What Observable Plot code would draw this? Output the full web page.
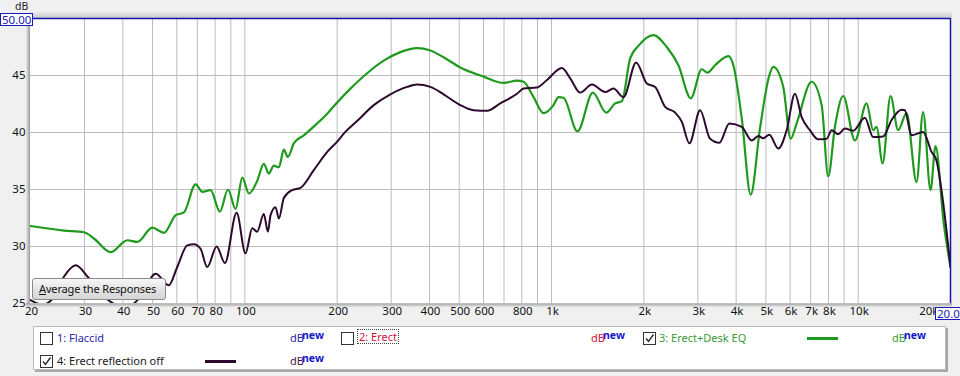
<!DOCTYPE html>
<html><head><meta charset="utf-8">
<script src="https://cdn.jsdelivr.net/npm/d3@7"></script>
<script src="https://cdn.jsdelivr.net/npm/@observablehq/plot@0.6"></script>
<style>
body{margin:0;background:#f0f0f0;font-family:"Noto Sans",sans-serif;}
#wrap{position:relative;width:960px;height:376px;overflow:hidden;background:#f0f0f0;}
#chart{position:absolute;left:0;top:0;}
.abs{position:absolute;white-space:nowrap;}
#shade{position:absolute;left:28px;top:11px;width:924px;height:7px;background:linear-gradient(#f0f0f0,#c9c9c9);}
#lshade{position:absolute;left:26px;top:14px;width:4px;height:292px;background:linear-gradient(90deg,#e8e8e8,#9a9a9a);}
#bshade{position:absolute;left:26px;top:303px;width:926px;height:4px;background:linear-gradient(#9a9a9a,#e8e8e8);}
.box{position:absolute;background:#fff;border:1px solid #1a1ab4;color:#1a1ab4;font-size:11.5px;line-height:11px;padding:0 1px;white-space:nowrap;}
#btn{position:absolute;left:32px;top:278px;width:126px;height:20px;border:1px solid #8a8a8a;border-radius:3px;background:linear-gradient(#f7f7f7,#e2e2e2 55%,#d6d6d6);font-size:11px;letter-spacing:-0.15px;line-height:20px;padding-left:6px;color:#111;white-space:nowrap;overflow:hidden;}
#legend{position:absolute;left:33px;top:326px;width:911px;height:42px;background:#fff;border:1px solid #b8b8b8;box-shadow:2px 2px 0 #a8a8a8;}
.cb{position:absolute;width:11px;height:11px;border:1px solid #333;background:#fff;}
.cb svg{position:absolute;left:0;top:0;}
.lt{position:absolute;font-size:11px;line-height:16px;white-space:nowrap;}
.db{position:absolute;font-size:11px;line-height:16px;}
.nw{position:absolute;font-size:10.5px;font-weight:bold;color:#1616c8;line-height:12px;}
.ln{position:absolute;height:3px;}
</style></head><body>
<div id="wrap">
<div id="shade"></div><div id="lshade"></div><div id="bshade"></div>
<div id="chart"></div>
<div class="abs" style="left:15px;top:1px;font-size:10.5px;color:#222;line-height:10px;">dB</div>
<div class="box" style="left:0px;top:13px;">50.00</div>
<div class="box" style="left:935px;top:307px;">20.00</div>
<div id="btn"><span style="text-decoration:underline">A</span>verage the Responses</div>
<div id="legend"></div>
</div>
<script>
// ---- data (frequency in Hz, level in dB) ----
const greenFreq = [20,25.7,29.9,32.2,36.5,41.4,44.6,49.9,54.5,59.5,63.3,69.1,72.7,77.3,82.9,88.1,93.3,98.1,103.1,109.7,115.3,119.7,124.3,129.1,134,138.1,144.4,155.7,172.2,185.6,201,221,250.5,283.7,321.6,364.5,402.6,444.8,504.2,600.5,697.9,771.7,810.8,873.9,941.9,1015,1054,1094,1215,1364,1508,1613,1696,1805,1920,2149,2376,2593,2846,3090,3223,3414,3773,3917,4172,4462,4786,5130,5286,5697,6024,6301,7050,7601,7987,8398,8939,9757,10650,11190,11480,12010,12750,13500,14380,15500,16280,17220,17870,19020,20000];
const greenDb = [31.8,31.4,31.25,30.7,29.5,30.55,30.4,31.65,31.2,32.75,33.0,35.45,34.8,34.95,33.05,35.0,33.3,36.05,34.65,35.75,37.25,36.4,37.1,36.95,38.5,37.85,39.05,39.75,40.8,41.65,42.7,43.85,45.2,46.3,47.05,47.4,47.2,46.6,45.7,44.9,44.35,44.55,44.45,43.1,41.7,42.4,43.1,43.05,40.1,43.5,41.75,42.55,42.75,46.5,47.6,48.55,47.5,45.9,43.0,45.55,45.25,45.9,46.7,45.9,41.25,34.55,40.4,45.0,45.75,44.0,39.45,40.8,44.45,42.4,36.15,40.5,43.2,39.3,42.55,40.2,40.5,37.3,43.2,40.2,41.7,35.65,41.8,34.95,38.8,32.0,28.2];
const purpleFreq = [20,21.9,23.6,25.7,28.1,30.7,33.9,37.9,41.5,45.7,51.2,56.5,60.2,64.9,68.2,71.7,75.4,80.9,86.1,94.0,100.5,105.7,109.7,115.3,118.9,121.3,125.9,129.1,134.0,142.7,151.9,167.8,185.6,200,210.1,232.3,263.2,298.3,338.1,364.5,402.6,444.8,504.2,557.2,616.0,680.7,771.7,810.8,896.6,966.1,1081,1151,1240,1354,1496,1592,1717,1888,2046,2177,2347,2529,2659,2816,3051,3289,3526,3801,4172,4495,4724,4904,5130,5488,5845,6220,6542,6961,7407,7894,8194,8609,9052,9632,10510,11190,12060,12850,13850,14190,14930,16280,17350,18000,18690,20000];
const purpleDb = [25.3,24.9,25.4,27.35,28.35,27.35,25.9,24.9,24.7,25.6,27.6,26.6,28.2,30.1,30.2,29.8,28.2,30.0,28.55,32.95,29.4,31.6,31.3,32.85,31.3,32.75,33.45,32.45,34.25,34.95,35.15,36.7,38.3,39.2,39.9,41.0,42.4,43.35,44.0,44.2,44.0,43.35,42.4,41.95,41.9,42.55,43.4,43.85,43.95,44.6,45.65,44.75,43.5,44.2,43.55,43.85,43.1,46.15,44.3,44.0,42.25,41.75,40.95,39.05,41.95,39.45,39.1,40.8,40.5,39.3,39.7,39.5,39.8,38.6,40.2,43.4,41.35,40.2,39.4,39.45,40.2,39.85,40.35,40.15,41.3,39.6,39.65,41.1,42.0,41.95,39.75,40.05,38.3,37.55,34.95,28.2];
const xTickValues = [20,30,40,50,60,70,80,100,200,300,400,500,600,800,1000,2000,3000,4000,5000,6000,7000,8000,10000];
const xTickLabels = ["20","30","40","50","60","70","80","100","200","300","400","500","600","800","1k","2k","3k","4k","5k","6k","7k","8k","10k"];
const yTickValues = [25,30,35,40,45];
const seriesNames = ["1: Flaccid","2: Erect","3: Erect+Desk EQ","4: Erect reflection off"];
const greenColor = "#1f9a1f", purpleColor = "#2c0a2e";

const green = greenFreq.map((f,i)=>({f, db: greenDb[i]}));
const purple = purpleFreq.map((f,i)=>({f, db: purpleDb[i]}));
const xTicks = xTickValues.map((v,i)=>({v, label: xTickLabels[i]}));
const gridFreqs = [];
for (const dec of [10,100,1000,10000]) for (let k=1;k<=9;k++){const v=k*dec; if (v>20 && v<=20000) gridFreqs.push(v);}

const chart = Plot.plot({
  width: 960, height: 324,
  marginLeft: 30, marginRight: 10, marginTop: 18, marginBottom: 21,
  style: {background: "transparent", fontFamily: '"Noto Sans", sans-serif', fontSize: "11.5px", color: "#111"},
  x: {type: "log", domain: [20, 20000], axis: null},
  y: {domain: [25, 50], ticks: yTickValues, tickSize: 0, tickPadding: 5, label: null},
  marks: [
    Plot.frame({fill: "white", stroke: null}),
    Plot.ruleX(gridFreqs, {stroke: "#bdbdbd", strokeWidth: 1, strokeOpacity: 1}),
    Plot.ruleY(yTickValues, {stroke: "#bdbdbd", strokeWidth: 1, strokeOpacity: 1}),
    Plot.line(green, {x: "f", y: "db", stroke: greenColor, strokeWidth: 2.2, curve: "monotone-x", clip: true}),
    Plot.line(purple, {x: "f", y: "db", stroke: purpleColor, strokeWidth: 2, curve: "monotone-x", clip: true}),
    Plot.ruleY([50], {stroke: "#1414a8", strokeWidth: 1.5}),
    Plot.ruleX([20000], {stroke: "#1414a8", strokeWidth: 1.5}),
    Plot.text(xTicks, {x: "v", text: "label", frameAnchor: "bottom", dy: 11, dx: 1, fill: "#111"}),
    Plot.text([20000], {x: d => d, frameAnchor: "bottom", dy: 11, text: () => "20k", textAnchor: "end", dx: -12, fill: "#111"})
  ]
});
document.getElementById("chart").appendChild(chart);

// ---- legend ----
const lg = document.getElementById("legend");
const L = 33, T = 326;
function add(html){ lg.insertAdjacentHTML("beforeend", html); }
const check = '<svg width="11" height="11"><path d="M2 5.5 L4.5 8.5 L9.5 1.5" fill="none" stroke="#222" stroke-width="1.3"/></svg>';
function cb(x, y, checked){ add(`<div class="cb" style="left:${x-L}px;top:${y-T}px">${checked?check:""}</div>`); }
function txt(x, y, s, c, extra=""){ add(`<div class="lt" style="left:${x-L}px;top:${y-T-8}px;color:${c};${extra}">${s}</div>`); }
function dbn(x, y, c){ add(`<div class="db" style="left:${x-L}px;top:${y-T-8}px;color:${c}">dB</div><div class="nw" style="left:${x-L+12}px;top:${y-T-9}px">new</div>`); }
function ln(x1, x2, y, c){ add(`<div class="ln" style="left:${x1-L}px;top:${y-T-1}px;width:${x2-x1}px;background:${c}"></div>`); }
cb(39, 331, false); txt(56, 337, seriesNames[0], "#2727a6"); dbn(289, 337, "#2727a6");
cb(340, 331, false); txt(357, 337, seriesNames[1], "#d4123c", "outline:1px dotted #444;line-height:13px;padding:0 1px;"); dbn(590, 337, "#d4123c");
cb(642, 331, true); txt(658, 337, seriesNames[2], "#3a9a3a"); ln(806, 837, 337, greenColor); dbn(891, 337, "#3a9a3a");
cb(39, 354, true); txt(56, 360, seriesNames[3], "#1a1a1a"); ln(204, 235, 360, purpleColor); dbn(289, 360, "#4a1450");
</script>
</body></html>
